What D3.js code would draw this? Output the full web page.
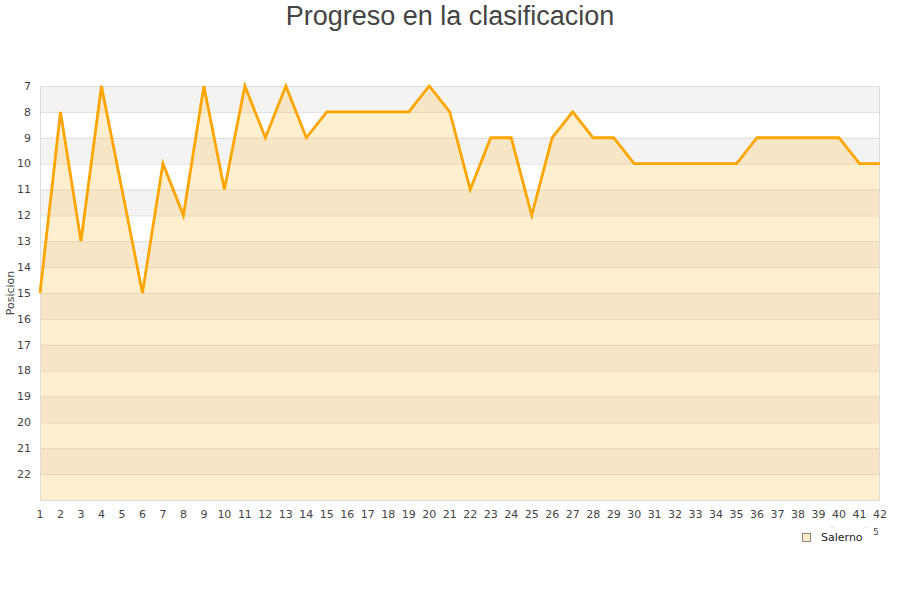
<!DOCTYPE html>
<html><head><meta charset="utf-8">
<script src="https://cdn.jsdelivr.net/npm/d3@7"></script>
<style>body{margin:0;background:#fff}svg{display:block}</style>
</head><body>
<script>
const rounds = d3.range(1, 43);
const positions = [15,8,13,7,11,15,10,12,7,11,7,9,7,9,8,8,8,8,8,7,8,11,9,9,12,9,8,9,9,10,10,10,10,10,10,9,9,9,9,9,10,10];
const yTicks = d3.range(7, 23);
const seriesName = "Salerno";
const title = "Progreso en la clasificacion";
const yTitle = "Posicion";

const W = 900, H = 600;
const m = {l: 40, r: 20, t: 86, b: 100};
const svg = d3.select("body").append("svg").attr("width", W).attr("height", H);

const x = d3.scaleLinear().domain([1, 42]).range([m.l, W - m.r]);
const y = d3.scaleLinear().domain([7, 23]).range([m.t, H - m.b]);

// bands
const bands = d3.range(7, 23);
svg.append("g").selectAll("rect").data(bands).join("rect")
  .attr("x", x(1)).attr("width", x(42) - x(1))
  .attr("y", d => y(d)).attr("height", d => y(d + 1) - y(d))
  .attr("fill", d => (d % 2 === 1) ? "#f3f3f3" : "#ffffff");

// grid lines
svg.append("g").selectAll("line").data(yTicks).join("line")
  .attr("x1", x(1)).attr("x2", x(42))
  .attr("y1", d => y(d) + 0.5).attr("y2", d => y(d) + 0.5)
  .attr("stroke", "#dddddd").attr("stroke-width", 1);

const data = rounds.map((r, i) => ({r, p: positions[i]}));

// area
svg.append("path").datum(data)
  .attr("d", d3.area().x(d => x(d.r)).y0(y(23)).y1(d => y(d.p)))
  .attr("fill", "rgba(255,190,60,0.25)");

// border
svg.append("rect").attr("x", x(1) + 0.5).attr("y", y(7) + 0.5)
  .attr("width", x(42) - x(1) - 1).attr("height", y(23) - y(7))
  .attr("fill", "none").attr("stroke", "#dddddd");

// line
svg.append("path").datum(data)
  .attr("d", d3.line().x(d => x(d.r)).y(d => y(d.p)))
  .attr("fill", "none").attr("stroke", "#ffa500").attr("stroke-width", 2.8)
  .attr("stroke-linejoin", "miter");

// y axis labels
svg.append("g").selectAll("text").data(yTicks).join("text")
  .attr("x", 31).attr("y", d => y(d)).attr("dy", "0.35em")
  .attr("text-anchor", "end")
  .attr("font-family", "DejaVu Sans").attr("font-size", 11).attr("fill", "#444")
  .text(d => d);

// x axis labels
svg.append("g").selectAll("text").data(rounds).join("text")
  .attr("x", d => x(d)).attr("y", 518)
  .attr("text-anchor", "middle")
  .attr("font-family", "DejaVu Sans").attr("font-size", 11).attr("fill", "#444")
  .text(d => d);

// title
svg.append("text").attr("x", 450).attr("y", 25).attr("text-anchor", "middle")
  .attr("font-family", "Liberation Sans, Arial, sans-serif").attr("font-size", 27).attr("fill", "#444")
  .text(title);

// y title
svg.append("text").attr("transform", "translate(14,293) rotate(-90)")
  .attr("text-anchor", "middle")
  .attr("font-family", "DejaVu Sans").attr("font-size", 11).attr("fill", "#444")
  .text(yTitle);

// legend
svg.append("rect").attr("x", 802.5).attr("y", 533.5).attr("width", 8).attr("height", 8)
  .attr("fill", "#fde9c6").attr("stroke", "#888");
svg.append("text").attr("x", 821).attr("y", 541)
  .attr("font-family", "DejaVu Sans").attr("font-size", 11).attr("fill", "#222")
  .text(seriesName);
// stray marks
svg.append("text").attr("x", 873).attr("y", 535)
  .attr("font-family", "DejaVu Sans").attr("font-size", 9).attr("fill", "#444").text("5");
svg.append("text").attr("x", 831).attr("y", 528)
  .attr("font-family", "DejaVu Sans").attr("font-size", 6).attr("fill", "#444").text(".");
svg.append("text").attr("x", 865).attr("y", 528)
  .attr("font-family", "DejaVu Sans").attr("font-size", 6).attr("fill", "#444").text(".");
</script>
</body></html>
